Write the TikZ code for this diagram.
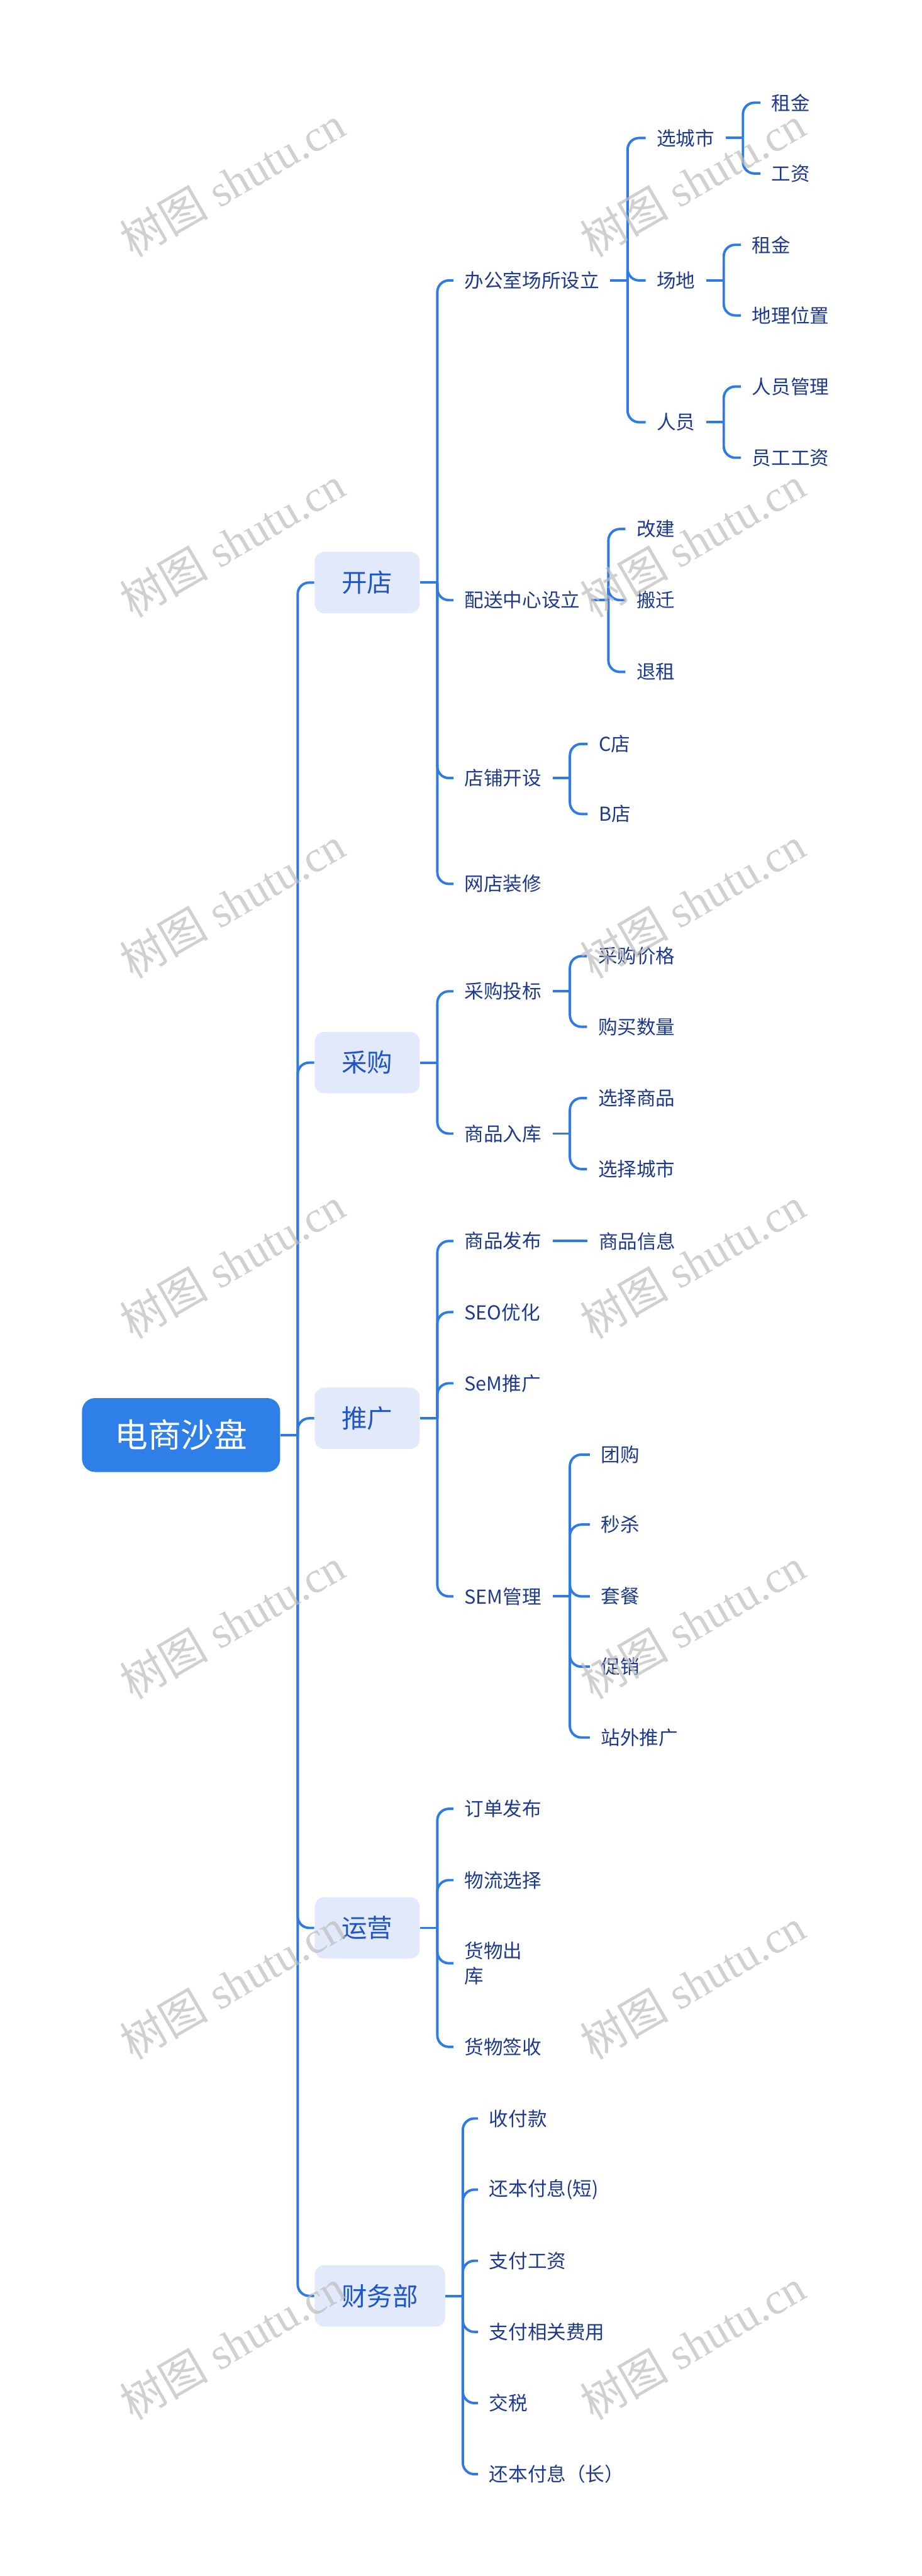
\documentclass[tikz,border=0pt]{standalone}
\usepackage{fontspec}
\setmainfont{Noto Sans CJK SC}
\newfontfamily\wmcjk{Noto Sans CJK SC}
\newfontfamily\wmlat{Liberation Serif}
\usetikzlibrary{calc}
\definecolor{linec}{HTML}{2F7BE5}
\definecolor{rootc}{HTML}{2F7FE9}
\definecolor{lonec}{HTML}{E1E9FB}
\definecolor{lonetext}{HTML}{1F55C6}
\definecolor{txtc}{HTML}{1D3A8F}
\definecolor{wmc}{HTML}{BDBDBD}
\newcommand{\hub}[1]{\draw[conn] (#1.east) -- ++(10.5,0) coordinate (#1h);}
\newcommand{\twig}[2]{\draw[conn] (#1h) |- (#2.west);}
\begin{document}
\begin{tikzpicture}[x=1pt,y=-1pt,
 conn/.style={draw=linec, line width=1.5pt, rounded corners=7pt},
 rootbox/.style={fill=rootc, rounded corners=8pt, text=white, font=\fontsize{20.2}{24}\selectfont, minimum width=120.6pt, minimum height=45pt, inner sep=0pt},
 lone/.style={fill=lonec, rounded corners=6pt, text=lonetext, font=\fontsize{15.5}{18}\selectfont, minimum height=37.4pt, inner xsep=16.5pt, inner ysep=0pt, anchor=west},
 leaf/.style={text=txtc, font=\fontsize{11.7}{15.4}\selectfont, inner xsep=6.6pt, inner ysep=2pt, anchor=west},
 wm/.style={text=wmc, text opacity=0.7, rotate=30, font=\fontsize{27}{30}\selectfont, inner sep=0pt}
]
\fill[white] (0,0) rectangle (561,1568);
\useasboundingbox (0,0) rectangle (561,1568);

% root and level 1
\node[rootbox] (root) at (110.2,873.5) {电商沙盘};
\node[lone] (kd) at (191.3,354.6) {开店};
\node[lone] (cg) at (191.3,646.8) {采购};
\node[lone] (tg) at (191.3,863.3) {推广};
\node[lone] (yy) at (191.3,1173.5) {运营};
\node[lone] (cw) at (191.3,1397.5) {财务部};

% 开店
\node[leaf] (bg) at (276,170.7) {办公室场所设立};
\node[leaf] (ps) at (276,365.3) {配送中心设立};
\node[leaf] (dp) at (276,473.6) {店铺开设};
\node[leaf] (wd) at (276,538) {网店装修};
\node[leaf] (xcs) at (393,84) {选城市};
\node[leaf] (cd) at (393,170.7) {场地};
\node[leaf] (ry) at (393,257) {人员};
\node[leaf] (zja) at (462.9,62.5) {租金};
\node[leaf] (gz) at (462.9,105.6) {工资};
\node[leaf] (zjb) at (451,149) {租金};
\node[leaf] (dl) at (451,192) {地理位置};
\node[leaf] (rg) at (451,235.3) {人员管理};
\node[leaf] (yg) at (451,278.6) {员工工资};
\node[leaf] (gj) at (380.7,322) {改建};
\node[leaf] (bq) at (380.7,365.3) {搬迁};
\node[leaf] (tz) at (380.7,409) {退租};
\node[leaf] (cshop) at (357.7,452.8) {C店};
\node[leaf] (bshop) at (357.7,495.5) {B店};

% 采购
\node[leaf] (cb) at (276,603.4) {采购投标};
\node[leaf] (rk) at (276,690) {商品入库};
\node[leaf] (jg) at (357.3,582) {采购价格};
\node[leaf] (sl) at (357.3,625) {购买数量};
\node[leaf] (xs) at (357.3,668.4) {选择商品};
\node[leaf] (xc) at (357.3,711.6) {选择城市};

% 推广
\node[leaf] (fb) at (276,755.4) {商品发布};
\node[leaf] (seo) at (276,798.7) {SEO优化};
\node[leaf] (semA) at (276,842) {SeM推广};
\node[leaf] (semB) at (276,971.7) {SEM管理};
\node[leaf] (xx) at (357.7,755.4) {商品信息};
\node[leaf] (tgou) at (359,885.4) {团购};
\node[leaf] (ms) at (359,928) {秒杀};
\node[leaf] (tc) at (359,971.7) {套餐};
\node[leaf] (cx) at (359,1014.5) {促销};
\node[leaf] (zw) at (359,1057.6) {站外推广};

% 运营
\node[leaf] (dd) at (276,1101) {订单发布};
\node[leaf] (wl) at (276,1144.4) {物流选择};
\node[leaf, align=left] (hc) at (276,1195) {货物出\\库};
\node[leaf] (qs) at (276,1245.9) {货物签收};

% 财务部
\node[leaf] (sa) at (291,1289.5) {收付款};
\node[leaf] (sb) at (291,1332.8) {还本付息(短)};
\node[leaf] (sc) at (291,1376.1) {支付工资};
\node[leaf] (sd) at (291,1419.4) {支付相关费用};
\node[leaf] (se) at (291,1462.7) {交税};
\node[leaf] (sf) at (291,1506) {还本付息（长）};

% connectors
\hub{root}
\twig{root}{kd}\twig{root}{cg}\twig{root}{tg}\twig{root}{yy}\twig{root}{cw}
\hub{kd}
\twig{kd}{bg}\twig{kd}{ps}\twig{kd}{dp}\twig{kd}{wd}
\hub{bg}
\twig{bg}{xcs}\twig{bg}{cd}\twig{bg}{ry}
\hub{xcs}
\twig{xcs}{zja}\twig{xcs}{gz}
\hub{cd}
\twig{cd}{zjb}\twig{cd}{dl}
\hub{ry}
\twig{ry}{rg}\twig{ry}{yg}
\hub{ps}
\twig{ps}{gj}\twig{ps}{bq}\twig{ps}{tz}
\hub{dp}
\twig{dp}{cshop}\twig{dp}{bshop}
\hub{cg}
\twig{cg}{cb}\twig{cg}{rk}
\hub{cb}
\twig{cb}{jg}\twig{cb}{sl}
\hub{rk}
\twig{rk}{xs}\twig{rk}{xc}
\hub{tg}
\twig{tg}{fb}\twig{tg}{seo}\twig{tg}{semA}\twig{tg}{semB}
\draw[conn] (fb.east) -- (xx.west);
\hub{semB}
\twig{semB}{tgou}\twig{semB}{ms}\twig{semB}{tc}\twig{semB}{cx}\twig{semB}{zw}
\hub{yy}
\twig{yy}{dd}\twig{yy}{wl}\twig{yy}{hc}\twig{yy}{qs}
\hub{cw}
\twig{cw}{sa}\twig{cw}{sb}\twig{cw}{sc}\twig{cw}{sd}\twig{cw}{se}\twig{cw}{sf}

% watermarks
\foreach \i in {0,1}{
  \foreach \j in {0,...,6}{
    \node[wm] (wm\i\j) at ({141.5+280*\i},{110.5+219.4*\j}) {{\wmcjk 树图}{\wmlat\ shutu.cn}};
  }
}
\end{tikzpicture}
\end{document}
